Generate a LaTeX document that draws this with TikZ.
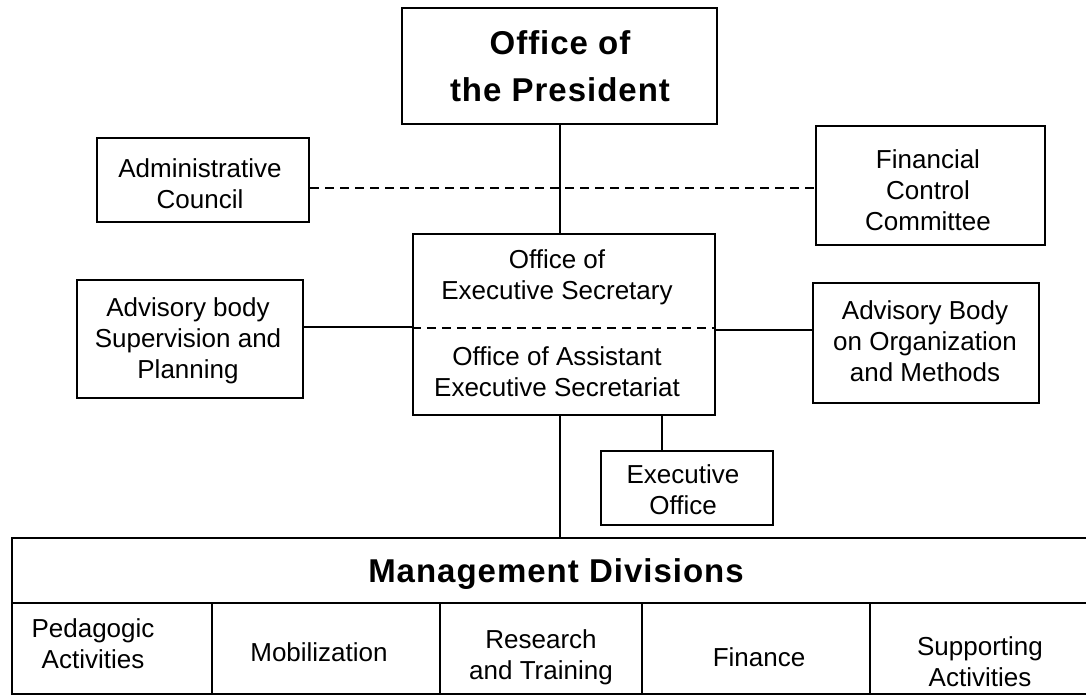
\documentclass[tikz,border=0pt]{standalone}
\usepackage{fontspec}
\setmainfont{Liberation Sans}
\newfontfamily\bw[LetterSpace=3]{Liberation Sans}
\begin{document}
\begin{tikzpicture}[x=1pt,y=-1pt,
  box/.style={draw, line width=2.2pt, inner sep=0pt},
  txt/.style={align=center, inner sep=0pt, font=\fontsize{26}{31}\selectfont},
  btxt/.style={align=center, inner sep=0pt, font=\bw\bfseries\fontsize{33}{47}\selectfont},
  link/.style={line width=2pt},
  dlink/.style={line width=1.6pt, dash pattern=on 9pt off 6pt}]
\useasboundingbox (0,0) rectangle (1086,698);
\clip (0,0) rectangle (1086,698);

% top
\node[box, minimum width=315pt, minimum height=116pt] (pres) at (559.5,66) {};
\node[btxt] (prestxt) at (560,66) {Office of\\the President};

\node[box, minimum width=212pt, minimum height=84pt] (admin) at (203,180) {};
\node[txt] (admintxt) at (200,184) {Administrative\\Council};

\node[box, minimum width=229pt, minimum height=119pt] (fin) at (930.5,185.5) {};
\node[txt] (fintxt) at (928,190) {Financial\\Control\\Committee};

% executive
\node[box, minimum width=302pt, minimum height=181pt] (exec) at (564,324.5) {};
\node[txt] (exectxtA) at (557,277.5) {Office of\\Executive Secretary};
\node[txt] (exectxtB) at (557,372) {Office of Assistant\\Executive Secretariat};
\coordinate (dv) at (564,328);

\node[box, minimum width=226pt, minimum height=118pt] (sup) at (190,339) {};
\node[txt] (suptxt) at (188,341) {Advisory body\\Supervision and\\Planning};

\node[box, minimum width=226pt, minimum height=120pt] (org) at (926,343) {};
\node[txt] (orgtxt) at (925,341) {Advisory Body\\on Organization\\and Methods};

\node[box, minimum width=172pt, minimum height=74pt] (eoff) at (687,488) {};
\node[txt] (eofftxt) at (683,490) {Executive\\Office};

% management
\node[box, minimum width=1088pt, minimum height=65pt] (mtitle) at (556,570.5) {};
\node[btxt] (mtxt) at (556,574) {Management Divisions};
\node[box, minimum width=200pt, minimum height=91pt] (c1) at (112,648.5) {};
\node[box, minimum width=228pt, minimum height=91pt] (c2) at (326,648.5) {};
\node[box, minimum width=202pt, minimum height=91pt] (c3) at (541,648.5) {};
\node[box, minimum width=228pt, minimum height=91pt] (c4) at (756,648.5) {};
\node[box, minimum width=230pt, minimum height=91pt] (c5) at (985,648.5) {};
\node[txt] (c1txt) at (93,643.5) {Pedagogic\\Activities};
\node[txt] (c2txt) at (319,652) {Mobilization};
\node[txt] (c3txt) at (541,657) {Research\\and Training};
\node[txt] (c4txt) at (759,657) {Finance};
\node[txt] (c5txt) at (980,662) {Supporting\\Activities};

% connectors
\coordinate (dy) at (560,188);
\draw[link] (pres.south) -- (pres.south |- exec.north);
\draw[dlink] (admin.east |- dy) -- (fin.west |- dy);
\draw[dlink] (exec.west |- dv) -- (exec.east |- dv);
\draw[link] ([yshift=-2pt]exec.west) -- ([yshift=-2pt]exec.west -| sup.east);
\draw[link] ([yshift=-5pt]exec.east) -- ([yshift=-5pt]exec.east -| org.west);
\draw[link] (pres.south |- exec.south) -- (pres.south |- mtitle.north);
\draw[link] ([xshift=-25pt]eoff.north) -- ([xshift=-25pt]eoff.north |- exec.south);
\end{tikzpicture}
\end{document}
